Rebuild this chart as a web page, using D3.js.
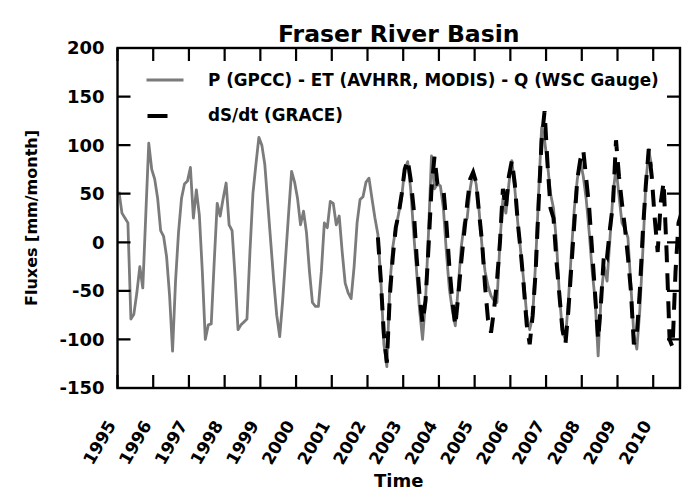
<!DOCTYPE html>
<html>
<head>
<meta charset="utf-8">
<script src="https://cdn.jsdelivr.net/npm/d3@7/dist/d3.min.js"></script>
<style>
  html, body { margin: 0; padding: 0; background: #fff; }
  svg { display: block; }
  text { font-family: "DejaVu Sans", sans-serif; font-weight: bold; fill: #000; }
</style>
</head>
<body>
<div id="chart"></div>
<script>
// monthly series, P - ET - Q, Jan 1995 .. Dec 2009 (mm/month)
const budgetStart = [1995, 1]
const budgetValues = [
  52, 30, 25, 20, -79, -74, -52, -25, -47, 28,
  102, 75, 65, 45, 12, 6, -15, -55, -112, -40,
  10, 45, 60, 63, 77, 25, 54, 28, -30, -100,
  -85, -84, -20, 40, 27, 45, 61, 18, 12, -35,
  -90, -85, -82, -79, -10, 50, 80, 108, 100, 80,
  40, 0, -40, -75, -97, -60, -15, 30, 73, 62,
  45, 18, 32, 10, -30, -62, -66, -66, -30, 20,
  15, 42, 40, 18, 27, -10, -42, -52, -58, -25,
  20, 44, 47, 62, 66, 45, 25, 8, -40, -105,
  -128, -45, -5, 15, 30, 47, 75, 83, 55, 10,
  -30, -70, -100, -60, 10, 89, 55, 60, 58, 35,
  -10, -48, -70, -86, -45, -5, 20, 25, 55, 73,
  60, 32, -5, -30, -45, -55, -60, -62, 0, 45,
  30, 60, 84, 55, 20, -10, -40, -75, -90, -76,
  -20, 50, 118, 105, 80, 50, 35, 0, -55, -92,
  -100, -60, -10, 35, 65, 84, 68, 44, 10, -30,
  -60, -117, -55, -25, -40, 5, 50, 77, 48, 20,
  14, 5, -45, -95, -110, -70, -10, 60, 95, 78
]

// monthly series, dS/dt from GRACE, Apr 2002 onwards
const graceStart = [2002, 4]
const graceValues = [
  5, -40, -95, -124, -55, -15, 15, 30, 50, 75,
  85, 65, 35, -15, -55, -83, -60, -5, 55, 88,
  60, 58, 55, 20, -25, -60, -86, -55, -20, 10,
  40, 65, 72, 62, 30, 0, -45, -80, -93, -70,
  -40, 0, 55, 35, 68, 84, 60, 20, -10, -45,
  -85, -105, -75, -30, 40, 105, 135, 80, 35, 25,
  -20, -55, -90, -105, -70, -25, 20, 65, 85, 95,
  65, 35, -10, -55, -100, -60, -10, -15, 15, 40,
  105, 68, 40, 15, -15, -50, -105, -95, -50, 10,
  58, 96, 68, 25, -10, 40, 62, -10, -100, -108,
  -30, 20, 30
]

const yearTicks = d3.range(1995, 2011)
const fluxTicks = [-150, -100, -50, 0, 50, 100, 150, 200]

const seriesLabels = ["P (GPCC) - ET (AVHRR, MODIS) - Q (WSC Gauge)", "dS/dt (GRACE)"]

const W = 682, H = 491
const M = { top: 48, right: 2, bottom: 103, left: 117.5 }

function toPoints(start, values) {
  return values.map((v, i) => ({ t: start[0] + (start[1] - 1 + i + 0.5) / 12, v }))
}

const budget = toPoints(budgetStart, budgetValues)
const grace = toPoints(graceStart, graceValues)

const svg = d3.select("#chart").append("svg")
  .attr("width", W)
  .attr("height", H)

const x = d3.scaleLinear().domain([1995, 2010.75]).range([M.left, W - M.right])
const y = d3.scaleLinear().domain([-150, 200]).range([H - M.bottom, M.top])
const x0 = M.left, x1 = W - M.right, y0 = H - M.bottom, y1 = M.top

svg.append("defs").append("clipPath").attr("id", "plot-clip")
  .append("rect")
  .attr("x", x0).attr("y", y1)
  .attr("width", x1 - x0).attr("height", y0 - y1)

const line = d3.line().x(d => x(d.t)).y(d => y(d.v))

const plot = svg.append("g").attr("clip-path", "url(#plot-clip)")

plot.append("path")
  .datum(budget)
  .attr("fill", "none")
  .attr("stroke", "#7b7b7b")
  .attr("stroke-width", 2.8)
  .attr("stroke-linejoin", "round")
  .attr("d", line)

plot.append("path")
  .datum(grace)
  .attr("fill", "none")
  .attr("stroke", "#000")
  .attr("stroke-width", 4)
  .attr("stroke-dasharray", "17,11")
  .attr("d", line)

// ticks pointing inward on all four sides, one path
const tickLen = 13
const tp = d3.path()
yearTicks.forEach(d => {
  tp.moveTo(x(d), y0); tp.lineTo(x(d), y0 - tickLen)
  tp.moveTo(x(d), y1); tp.lineTo(x(d), y1 + tickLen)
})
fluxTicks.forEach(d => {
  tp.moveTo(x0, y(d)); tp.lineTo(x0 + tickLen, y(d))
  tp.moveTo(x1, y(d)); tp.lineTo(x1 - tickLen, y(d))
})
svg.append("path")
  .attr("d", tp.toString())
  .attr("fill", "none")
  .attr("stroke", "#000")
  .attr("stroke-width", 2.2)

svg.append("rect")
  .attr("x", x0).attr("y", y1)
  .attr("width", x1 - x0).attr("height", y0 - y1)
  .attr("fill", "none")
  .attr("stroke", "#000")
  .attr("stroke-width", 2.4)

// tick labels
svg.append("g").selectAll("text")
  .data(fluxTicks)
  .join("text")
  .attr("x", x0 - 13)
  .attr("y", d => y(d))
  .attr("dy", "0.36em")
  .attr("text-anchor", "end")
  .attr("font-size", 18)
  .text(d => d)

svg.append("g").selectAll("text")
  .data(yearTicks)
  .join("text")
  .attr("text-anchor", "end")
  .attr("font-size", 17)
  .attr("transform", d => `translate(${x(d) - 1},${y0 + 37}) rotate(-60)`)
  .text(d => d)

// titles
svg.append("text")
  .attr("x", (x0 + x1) / 2)
  .attr("y", 42)
  .attr("text-anchor", "middle")
  .attr("font-size", 23.5)
  .text("Fraser River Basin")

svg.append("text")
  .attr("x", (x0 + x1) / 2)
  .attr("y", 487)
  .attr("text-anchor", "middle")
  .attr("font-size", 18)
  .text("Time")

svg.append("text")
  .attr("transform", `translate(37,${(y0 + y1) / 2}) rotate(-90)`)
  .attr("text-anchor", "middle")
  .attr("font-size", 16)
  .text("Fluxes [mm/month]")

// legend
const legend = svg.append("g")
legend.append("line")
  .attr("x1", 146.5).attr("x2", 183.5).attr("y1", 80).attr("y2", 80)
  .attr("stroke", "#7b7b7b").attr("stroke-width", 2.8)
legend.append("line")
  .attr("x1", 147.5).attr("x2", 183.5).attr("y1", 116).attr("y2", 116)
  .attr("stroke", "#000").attr("stroke-width", 4).attr("stroke-dasharray", "20,20")
legend.selectAll("text.item")
  .data(seriesLabels)
  .join("text")
  .attr("class", "item")
  .attr("x", 208)
  .attr("y", (d, i) => 86 + i * 35)
  .attr("font-size", 16.8)
  .text(d => d)
</script>
</body>
</html>
